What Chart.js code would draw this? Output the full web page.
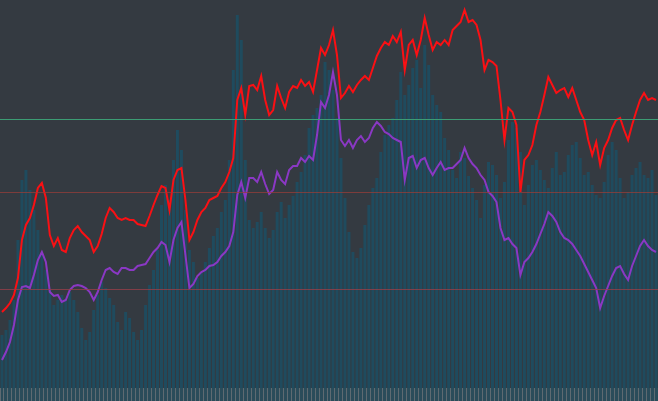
<!DOCTYPE html>
<html>
<head>
<meta charset="utf-8">
<script src="https://cdn.jsdelivr.net/npm/chart.js@4.4.1/dist/chart.umd.min.js"></script>
<style>
  html, body { margin: 0; padding: 0; background: #343a41; }
  #wrap { width: 658px; height: 401px; position: relative; }
</style>
</head>
<body>
<div id="wrap"><canvas id="chart"></canvas></div>
<script>
// price (red), moving average (purple), volume (bars) - one value per session
const closes = [
  76, 80, 85, 93, 110, 148, 163, 170, 183, 200,
  205, 190, 153, 142, 150, 138, 136, 150, 158, 162,
  156, 152, 148, 136, 142, 154, 170, 180, 176, 170,
  168, 170, 168, 168, 164, 163, 162, 172, 183, 193,
  202, 200, 178, 208, 218, 220, 188, 148, 156, 168,
  176, 180, 188, 190, 192, 200, 206, 216, 230, 288,
  300, 273, 302, 303, 298, 312, 288, 273, 278, 302,
  290, 280, 296, 302, 300, 308, 302, 306, 296, 318,
  340, 333, 343, 358, 333, 290, 295, 302, 296, 303,
  308, 312, 308, 320, 332, 340, 346, 343, 352, 346,
  356, 318, 343, 348, 333, 348, 370, 353, 338, 346,
  343, 348, 343, 358, 362, 366, 378, 366, 368, 363,
  348, 318, 328, 326, 322, 288, 248, 280, 276, 263,
  196, 228, 233, 243, 263, 276, 293, 311, 303, 295,
  298, 300, 291, 300, 288, 276, 268, 248, 233, 246,
  223, 240, 248, 260, 268, 270, 258, 248, 263, 276,
  288, 295, 288, 290, 288
];

const averages = [
  28, 36, 46, 63, 88, 101, 102, 100, 113, 128,
  136, 126, 96, 92, 93, 86, 88, 98, 102, 103,
  102, 100, 96, 88, 96, 108, 118, 120, 116, 114,
  120, 120, 118, 118, 122, 123, 124, 130, 136, 140,
  146, 143, 126, 148, 160, 166, 133, 100, 104, 112,
  116, 118, 122, 123, 126, 132, 136, 142, 156, 193,
  206, 190, 210, 210, 206, 216, 204, 194, 198, 216,
  208, 204, 218, 222, 222, 230, 226, 232, 228, 253,
  286, 280, 293, 316, 293, 248, 242, 248, 240, 248,
  252, 246, 250, 260, 266, 262, 256, 254, 250, 248,
  246, 208, 230, 232, 220, 228, 230, 220, 213, 220,
  226, 218, 220, 220, 224, 228, 240, 230, 224, 220,
  213, 208, 196, 192, 186, 160, 148, 150, 144, 140,
  113, 126, 130, 136, 144, 154, 164, 176, 172, 166,
  156, 150, 148, 144, 138, 132, 124, 116, 108, 100,
  80, 92, 102, 112, 120, 122, 114, 108, 122, 132,
  142, 148, 142, 138, 136
];

const volumes = [
  53, 58, 68, 88, 148, 208, 218, 198, 178, 158,
  133, 118, 98, 83, 88, 93, 88, 96, 88, 76,
  60, 48, 56, 78, 93, 106, 100, 90, 83, 66,
  58, 76, 70, 56, 48, 58, 83, 103, 118, 138,
  183, 203, 188, 228, 258, 238, 178, 138, 126, 110,
  116, 126, 140, 152, 160, 176, 188, 228, 318, 373,
  348, 228, 168, 160, 166, 176, 160, 150, 158, 176,
  186, 170, 183, 192, 206, 216, 233, 260, 273, 280,
  293, 326, 318, 298, 270, 230, 190, 156, 136, 130,
  140, 163, 183, 200, 210, 236, 253, 263, 270, 288,
  316, 293, 303, 320, 328, 300, 343, 323, 293, 283,
  276, 250, 238, 218, 210, 236, 230, 212, 200, 188,
  170, 203, 226, 223, 213, 190, 206, 248, 266, 260,
  236, 183, 203, 223, 228, 218, 208, 200, 220, 236,
  213, 216, 233, 243, 246, 230, 213, 216, 203, 193,
  190, 206, 233, 246, 238, 210, 190, 196, 213, 220,
  226, 213, 210, 218, 193
];

// horizontal reference levels on the price scale
const levels = [
  { value: 269, color: '#3c9c74' },
  { value: 196, color: 'rgba(150, 62, 58, 0.75)' },
  { value: 99, color: 'rgba(150, 62, 72, 0.8)' },
];

const labels = Array.from({ length: closes.length }, (_, i) => String(i + 1));

const backdrop = {
  id: 'backdrop',
  beforeDraw(chart) {
    const { ctx, chartArea } = chart;
    ctx.save();
    ctx.fillStyle = '#343a41';
    ctx.fillRect(0, 0, chart.width, chart.height);
    ctx.fillStyle = '#2a4c5a';
    ctx.fillRect(0, chartArea.bottom, chart.width, chart.height - chartArea.bottom);
    ctx.restore();
  },
};

const levelLines = {
  id: 'levelLines',
  afterDatasetsDraw(chart) {
    const { ctx, chartArea, scales } = chart;
    ctx.save();
    ctx.lineWidth = 1;
    levels.forEach(level => {
      const y = Math.round(scales.y.getPixelForValue(level.value)) + 0.5;
      ctx.strokeStyle = level.color;
      ctx.beginPath();
      ctx.moveTo(chartArea.left, y);
      ctx.lineTo(chartArea.right, y);
      ctx.stroke();
    });
    ctx.restore();
  },
};

new Chart(document.getElementById('chart'), {
  type: 'bar',
  data: {
    labels,
    datasets: [
      {
        type: 'line',
        label: 'Close',
        data: closes,
        borderColor: '#fa1014',
        borderWidth: 2,
        pointRadius: 0,
        tension: 0,
        yAxisID: 'y',
        order: 0,
      },
      {
        type: 'line',
        label: 'Average',
        data: averages,
        borderColor: '#8a38c4',
        borderWidth: 2,
        pointRadius: 0,
        tension: 0,
        yAxisID: 'y',
        order: 1,
      },
      {
        type: 'bar',
        label: 'Volume',
        data: volumes,
        backgroundColor: '#1f4b5e',
        barPercentage: 0.75,
        categoryPercentage: 1,
        yAxisID: 'y1',
        order: 2,
      },
    ],
  },
  options: {
    responsive: true,
    maintainAspectRatio: false,
    animation: false,
    layout: { padding: 0 },
    plugins: {
      legend: { display: false },
      tooltip: { enabled: false },
    },
    scales: {
      x: {
        border: { display: false },
        grid: {
          drawOnChartArea: false,
          drawTicks: true,
          tickLength: 13,
          color: 'rgba(100, 110, 115, 0.9)',
        },
        ticks: { display: false },
      },
      y: {
        display: false,
        min: 0,
        max: 388,
      },
      y1: {
        display: false,
        min: 0,
        max: 388,
      },
    },
  },
  plugins: [backdrop, levelLines],
});
</script>
</body>
</html>
